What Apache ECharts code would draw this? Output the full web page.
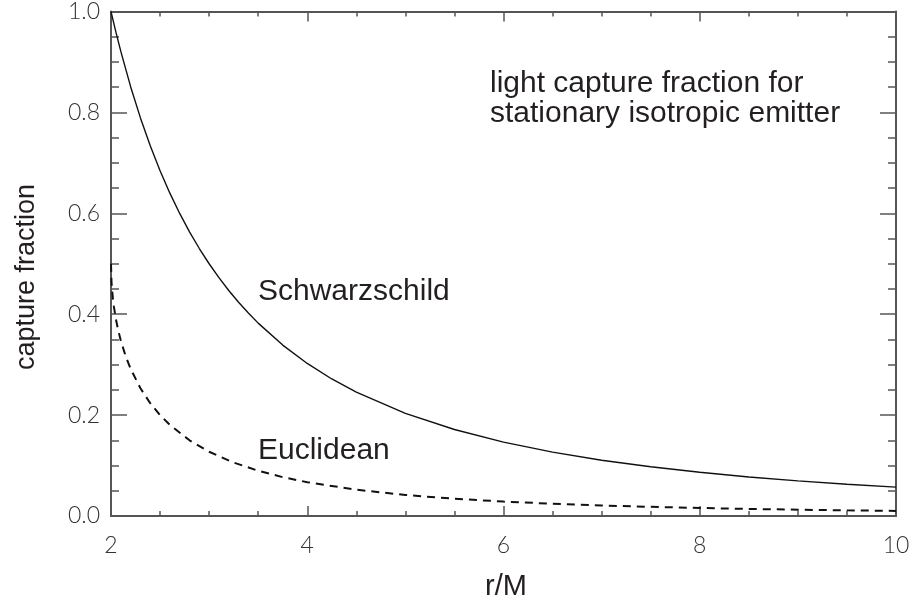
<!DOCTYPE html>
<html>
<head>
<meta charset="utf-8">
<script src="https://cdn.jsdelivr.net/npm/echarts@6/dist/echarts.min.js"></script>
<style>html,body{margin:0;padding:0;background:#fff;}#c{width:913px;height:606px;}</style>
</head>
<body>
<div id="c"></div>
<script>
// r/M sample positions and capture fractions
const schwX = [2.0, 2.01, 2.025, 2.05, 2.1, 2.2, 2.3, 2.4, 2.5, 2.6, 2.7, 2.8, 2.9, 3.0, 3.1, 3.2, 3.3, 3.4, 3.5, 3.75, 4.0, 4.25, 4.5, 5.0, 5.5, 6.0, 6.5, 7.0, 7.5, 8.0, 8.5, 9.0, 9.5, 10.0];
const schwY = [1.0, 0.9916, 0.9793, 0.9592, 0.9209, 0.8510, 0.7891, 0.7338, 0.6844, 0.6399, 0.5997, 0.5632, 0.5302, 0.5, 0.4724, 0.4470, 0.4237, 0.4022, 0.3823, 0.3388, 0.3024, 0.2716, 0.2454, 0.2034, 0.1714, 0.1464, 0.1266, 0.1106, 0.0975, 0.0866, 0.0774, 0.0697, 0.0630, 0.0573];
const euclX = [2.0, 2.005, 2.01, 2.02, 2.03, 2.05, 2.07, 2.1, 2.15, 2.2, 2.3, 2.4, 2.5, 2.6, 2.8, 3.0, 3.25, 3.5, 3.75, 4.0, 4.5, 5.0, 5.5, 6.0, 6.5, 7.0, 7.5, 8.0, 8.5, 9.0, 9.5, 10.0];
const euclY = [0.5, 0.4647, 0.4502, 0.4298, 0.4144, 0.3902, 0.3711, 0.3475, 0.3165, 0.2917, 0.2531, 0.2236, 0.2, 0.1805, 0.1501, 0.1273, 0.1059, 0.0897, 0.0770, 0.0670, 0.0521, 0.0417, 0.0342, 0.0286, 0.0243, 0.0208, 0.0181, 0.0159, 0.0140, 0.0125, 0.0112, 0.0101];
const xTicks = [2, 4, 6, 8, 10];
const yTicks = ['0.0', '0.2', '0.4', '0.6', '0.8', '1.0'];
const labels = {
  schw: 'Schwarzschild',
  eucl: 'Euclidean',
  note1: 'light capture fraction for',
  note2: 'stationary isotropic emitter',
  xName: 'r/M',
  yName: 'capture fraction'
};

const chart = echarts.init(document.getElementById('c'), null, {renderer: 'canvas'});
const axisCol = '#555';
const tickFont = {fontFamily: 'Lato', fontWeight: 300, fontSize: 23, color: '#333'};
const textCol = '#231f20';
const annFont = '30px "Liberation Sans", Arial';

function xAx(pos, showLabel) {
  return {
    type: 'value', position: pos, min: 2, max: 10, interval: 2,
    name: showLabel ? labels.xName : '', nameLocation: 'middle', nameGap: 56,
    nameTextStyle: {fontFamily: 'Liberation Sans, Arial', fontSize: 29, color: textCol, padding: [0, 0, 0, 5]},
    axisLine: {show: true, onZero: false, lineStyle: {color: axisCol, width: 2}},
    axisTick: {show: true, inside: true, length: 10, lineStyle: {color: axisCol, width: 1.5}},
    minorTick: {show: true, splitNumber: 4, length: 5, lineStyle: {color: axisCol, width: 1.5}},
    axisLabel: Object.assign({show: showLabel, margin: 18,
      formatter: v => xTicks.includes(v) ? String(v) : ''}, tickFont),
    splitLine: {show: false}
  };
}
function yAx(pos, showLabel) {
  return {
    type: 'value', position: pos, min: 0, max: 1, interval: 0.2,
    axisLine: {show: true, onZero: false, lineStyle: {color: axisCol, width: 2}},
    axisTick: {show: true, inside: true, length: 16, lineStyle: {color: axisCol, width: 1.5}},
    minorTick: {show: true, splitNumber: 4, length: 8, lineStyle: {color: axisCol, width: 1.5}},
    axisLabel: Object.assign({show: showLabel, margin: 11,
      formatter: v => yTicks[Math.round(v * 5)] || ''}, tickFont),
    splitLine: {show: false}
  };
}

chart.setOption({
  animation: false,
  backgroundColor: '#fff',
  grid: {left: 111, right: 17, top: 10, bottom: 81, containLabel: false},
  xAxis: [xAx('bottom', true), xAx('top', false)],
  yAxis: [yAx('left', true), yAx('right', false)],
  series: [
    {
      name: labels.schw, type: 'line', xAxisIndex: 0, yAxisIndex: 0,
      data: schwX.map((x, i) => [x, schwY[i]]),
      showSymbol: false, smooth: false,
      lineStyle: {color: '#111', width: 1.4}
    },
    {
      name: labels.eucl, type: 'line', xAxisIndex: 0, yAxisIndex: 0,
      data: euclX.map((x, i) => [x, euclY[i]]),
      showSymbol: false, smooth: false,
      lineStyle: {color: '#111', width: 2, type: [8, 6]}
    }
  ],
  graphic: [
    {type: 'text', x: 27, y: 277, rotation: Math.PI / 2,
      style: {text: labels.yName, fill: textCol, font: '27px "Liberation Sans", Arial', align: 'center', verticalAlign: 'middle'}},
    {type: 'text', left: 258, top: 277, style: {text: labels.schw, fill: textCol, font: annFont}},
    {type: 'text', left: 258, top: 436, style: {text: labels.eucl, fill: textCol, font: annFont}},
    {type: 'text', left: 490, top: 69, style: {text: labels.note1 + '\n' + labels.note2, fill: textCol, font: annFont, lineHeight: 30}}
  ]
});
</script>
</body>
</html>
